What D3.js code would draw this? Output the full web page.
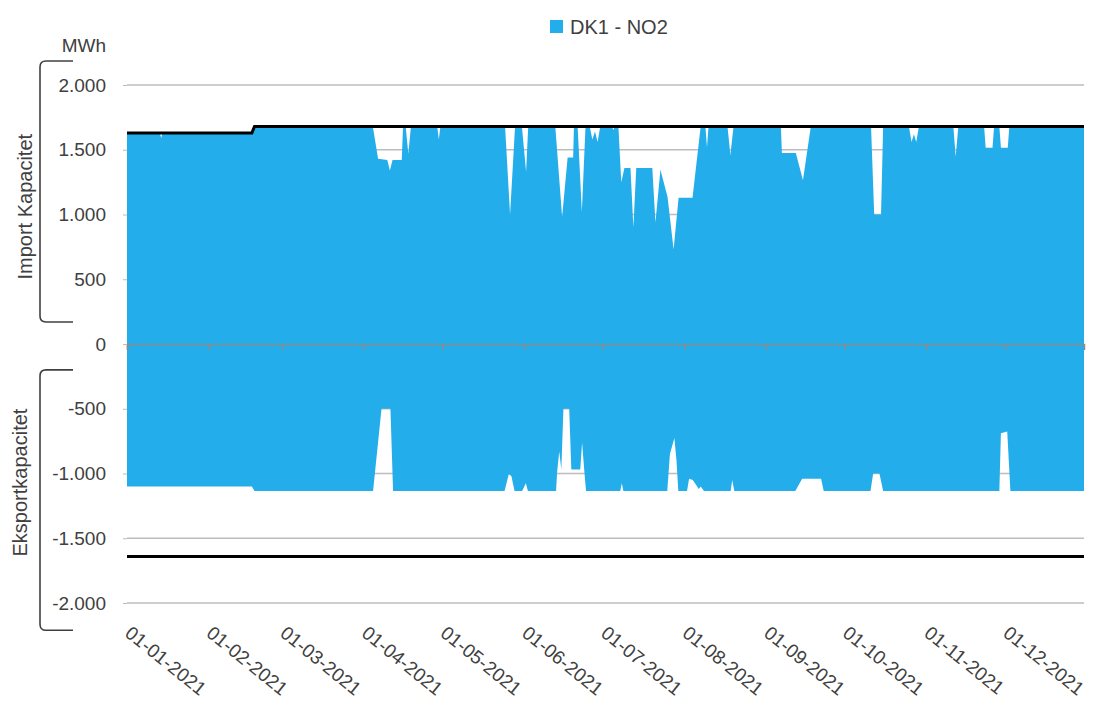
<!DOCTYPE html>
<html>
<head>
<meta charset="utf-8">
<script src="https://cdn.jsdelivr.net/npm/d3@7"></script>
<style>
  body { margin: 0; background: #fff; }
  text { font-family: "Liberation Sans", Arial, sans-serif; fill: #404040; }
</style>
</head>
<body>
<div id="chart"></div>
<script>
// values: [day of 2021 (0 = 1 Jan), MWh]
const seriesName = "DK1 - NO2";

const importPts = [
  [0,1630],[12.5,1630],[13,1590],[13.5,1630],[47.5,1630],[48.5,1680],
  [93.5,1680],[95.5,1430],[99,1420],[100,1340],[101,1420],[104.5,1420],[105,1680],
  [106,1680],[107,1470],[108,1680],
  [118,1680],[118.6,1580],[119.2,1680],
  [143.8,1680],[145.7,1000],[147.6,1680],
  [150.2,1680],[151.8,1330],[152.6,1680],
  [162.9,1680],[165.5,980],[167.6,1440],[169.7,1440],[170,1680],
  [171.4,1680],[173,1020],[174.4,1680],
  [176,1680],[177,1580],[178,1640],[179,1560],[180,1680],
  [184.5,1680],[185,1650],[185.5,1680],
  [186.9,1680],[188,1250],[189.2,1360],[191.5,1360],[192.6,900],[193.7,1360],
  [199.8,1360],[201,940],[202.9,1345],[205.6,1135],[207.9,730],[209.8,1130],
  [215.1,1130],[218.2,1680],
  [220,1680],[220.6,1520],[221.2,1680],
  [228.4,1680],[229.5,1460],[230.7,1680],
  [248.7,1680],[249.1,1475],[254.4,1475],[257.1,1265],[260.1,1680],
  [283,1680],[284.2,1000],[286.8,1000],[287.6,1680],
  [297.4,1680],[298.4,1560],[299.3,1620],[300.2,1560],[301.2,1680],
  [314.3,1680],[315.2,1445],[316.2,1680],
  [326,1680],[326.6,1515],[329.2,1515],[329.8,1680],
  [331.8,1680],[332.4,1515],[335,1515],[335.6,1680],
  [364,1680]
];

const exportPts = [
  [0,-1100],[47.5,-1100],[48.5,-1135],
  [93.6,-1135],[96.8,-500],[100.2,-500],[101.2,-1135],
  [143.6,-1135],[145.2,-1005],[146.2,-1020],[147.4,-1135],
  [150.3,-1135],[151.7,-1075],[152.5,-1135],
  [163.2,-1135],[163.6,-990],[164.4,-830],[165.2,-970],[166,-500],[168.2,-500],
  [169,-970],[172.4,-970],[173.1,-760],[173.9,-970],[174.6,-1135],
  [187.6,-1135],[188.2,-1075],[188.8,-1135],
  [205.5,-1135],[206.5,-850],[208.2,-725],[209,-900],[209.7,-1135],
  [213,-1135],[213.8,-1040],[215.2,-1050],[217.5,-1120],[218.2,-1100],[219.5,-1135],
  [229.6,-1135],[230.2,-1050],[231,-1135],
  [254.2,-1135],[256.8,-1040],[264,-1040],[265,-1135],
  [282.8,-1135],[283.8,-1000],[286.2,-1000],[287.6,-1135],
  [331.8,-1135],[332.4,-690],[334.8,-675],[336,-1135],
  [364,-1135]
];

// black capacity lines
const importCap = [[0,1630],[47.5,1630],[48.5,1680],[364,1680]];
const exportCap = [[0,-1640],[364,-1640]];

const yTicks = [-2000,-1500,-1000,-500,0,500,1000,1500,2000];
const importLabel = "Import Kapacitet";
const exportLabel = "Eksportkapacitet";
const unitLabel = "MWh";

const width = 1093, height = 709;
const blue = "#23AEEB";

const start = Date.UTC(2021, 0, 1);
const toDate = d => new Date(start + d * 864e5);

const x = d3.scaleUtc()
  .domain([toDate(0), toDate(364)])
  .range([127, 1084]);
const y = d3.scaleLinear().domain([-2000, 2000]).range([603, 85]);

const locale = d3.formatLocale({ decimal: ",", thousands: ".", grouping: [3], currency: ["", ""], minus: "-" });
const fmt = locale.format(",");

const svg = d3.select("#chart").append("svg")
  .attr("width", width)
  .attr("height", height);

// gridlines
svg.append("g")
  .selectAll("line")
  .data(yTicks.filter(v => v !== 0))
  .enter().append("line")
    .attr("x1", x.range()[0]).attr("x2", x.range()[1])
    .attr("y1", d => y(d)).attr("y2", d => y(d))
    .attr("stroke", "#bdbdbd")
    .attr("stroke-width", 1.5);

// areas
const area = d3.area()
  .x(d => x(toDate(d[0])))
  .y0(y(0))
  .y1(d => y(d[1]));

svg.append("path").datum(importPts).attr("d", area).attr("fill", blue);
svg.append("path").datum(exportPts).attr("d", area).attr("fill", blue);

// zero axis with month ticks
const xAxis = svg.append("g")
  .attr("transform", `translate(0,${y(0)})`)
  .call(d3.axisBottom(x).ticks(d3.utcMonth.every(1)).tickSize(6).tickFormat(""));
xAxis.selectAll("path, line").attr("stroke", "#8c8c8c").attr("stroke-width", 1.5);

// month labels
svg.append("g")
  .selectAll("text")
  .data(d3.utcMonths(toDate(0), toDate(365)))
  .enter().append("text")
    .attr("transform", d => `translate(${x(d) + 1},${y(-2000) + 27}) rotate(39)`)
    .attr("dy", "0.35em")
    .attr("font-size", 19)
    .text(d3.utcFormat("%d-%m-%Y"));

// y axis labels
const yAxis = svg.append("g")
  .attr("transform", `translate(${x.range()[0]},0)`)
  .call(d3.axisLeft(y).tickValues(yTicks).tickSize(4).tickPadding(17).tickFormat(fmt));
yAxis.select(".domain").remove();
yAxis.selectAll("line").attr("stroke", "#bdbdbd");
yAxis.selectAll("text")
  .attr("font-size", 19)
  .attr("font-family", "\"Liberation Sans\", Arial, sans-serif")
  .attr("fill", "#404040");

// capacity lines
const line = d3.line()
  .x(d => x(toDate(d[0])))
  .y(d => y(d[1]));
svg.append("path").datum(importCap).attr("d", line)
  .attr("fill", "none").attr("stroke", "#000").attr("stroke-width", 3);
svg.append("path").datum(exportCap).attr("d", line)
  .attr("fill", "none").attr("stroke", "#000").attr("stroke-width", 3);

// brackets and axis titles
function bracket(top, bottom) {
  const p = d3.path();
  p.moveTo(73, y(top));
  p.lineTo(46, y(top));
  p.quadraticCurveTo(40, y(top), 40, y(top) + 6);
  p.lineTo(40, y(bottom) - 6);
  p.quadraticCurveTo(40, y(bottom), 46, y(bottom));
  p.lineTo(73, y(bottom));
  svg.append("path").attr("d", p.toString())
    .attr("fill", "none").attr("stroke", "#404040").attr("stroke-width", 1.6);
}
bracket(2185, 170);
bracket(-200, -2210);

svg.append("text")
  .attr("transform", `translate(32,${y(1060)}) rotate(-90)`)
  .attr("text-anchor", "middle")
  .attr("font-size", 20)
  .text(importLabel);
svg.append("text")
  .attr("transform", `translate(27,${y(-1070)}) rotate(-90)`)
  .attr("text-anchor", "middle")
  .attr("font-size", 20)
  .text(exportLabel);

svg.append("text")
  .attr("x", 106).attr("y", 52)
  .attr("text-anchor", "end")
  .attr("font-size", 19)
  .text(unitLabel);

// legend
const legend = svg.append("g").attr("transform", "translate(550,20)");
legend.append("rect").attr("width", 13).attr("height", 13).attr("fill", blue);
legend.append("text")
  .attr("x", 20).attr("y", 14)
  .attr("font-size", 20)
  .text(seriesName);
</script>
</body>
</html>
